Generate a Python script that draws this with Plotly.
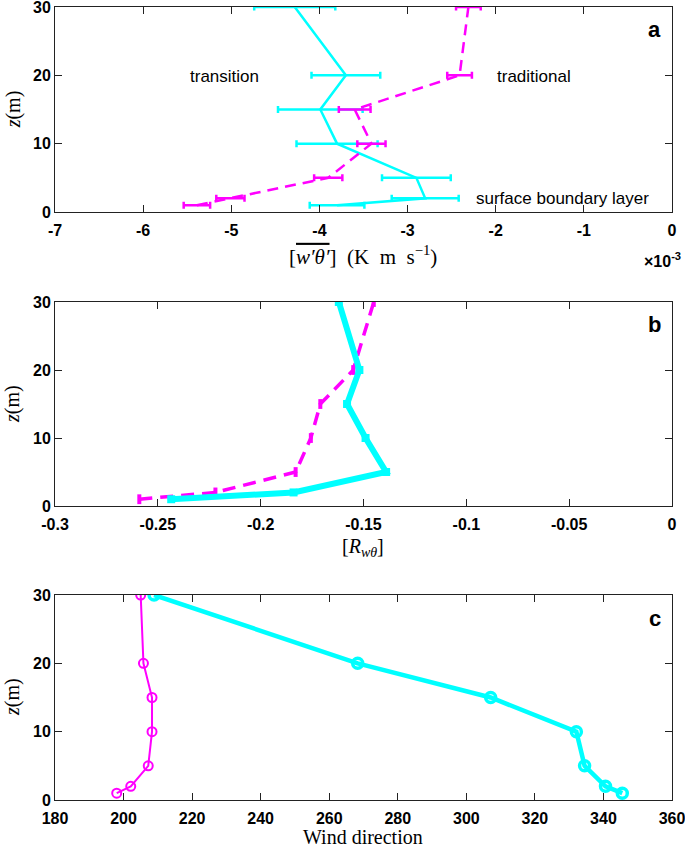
import plotly.graph_objects as go

# ---------------- data ----------------
z = [1, 2, 5, 10, 15, 20, 30]

# panel a: heat flux (x 1e-3 K m s^-1)
flux_transition = [-3.80, -2.80, -2.90, -3.80, -3.99, -3.70, -4.28]
flux_transition_err = [0.31, 0.38, 0.39, 0.46, 0.48, 0.39, 0.46]
flux_traditional = [-5.39, -5.01, -3.90, -3.41, -3.60, -2.41, -2.31]
flux_traditional_err = [0.15, 0.16, 0.16, 0.16, 0.18, 0.14, 0.14]

# panel b: correlation coefficient
r_transition = [-0.2435, -0.184, -0.139, -0.149, -0.158, -0.152, -0.162]
r_traditional = [-0.259, -0.222, -0.183, -0.1756, -0.171, -0.155, -0.145]

# panel c: wind direction (deg)
wd_transition = [345.5, 340.6, 334.5, 332.1, 307.1, 268.3, 208.9]
wd_traditional = [198.0, 202.1, 207.2, 208.3, 208.3, 205.8, 205.0]

x_ticks_a = [-7, -6, -5, -4, -3, -2, -1, 0]
x_ticks_b = [-0.3, -0.25, -0.2, -0.15, -0.1, -0.05, 0]
x_ticks_c = [180, 200, 220, 240, 260, 280, 300, 320, 340, 360]
y_ticks = [0, 10, 20, 30]

CYAN = "#00FFFF"
MAGENTA = "#FF00FF"
SANS = "Liberation Sans, Arial, sans-serif"
SERIF = "Liberation Serif, Times New Roman, serif"

fig = go.Figure()

# ---- panel a ----
fig.add_trace(go.Scatter(
    x=flux_transition, y=z, mode="lines", xaxis="x", yaxis="y",
    line=dict(color=CYAN, width=2.5),
    error_x=dict(type="data", array=flux_transition_err, color=CYAN,
                 thickness=2.5, width=3.5),
    showlegend=False))
fig.add_trace(go.Scatter(
    x=flux_traditional, y=z, mode="lines", xaxis="x", yaxis="y",
    line=dict(color=MAGENTA, width=2.5, dash="11px,7px"),
    error_x=dict(type="data", array=flux_traditional_err, color=MAGENTA,
                 thickness=2.5, width=3.5),
    showlegend=False))

# ---- panel b ----
fig.add_trace(go.Scatter(
    x=r_traditional, y=z, mode="lines+markers", xaxis="x2", yaxis="y2",
    line=dict(color=MAGENTA, width=3.5, dash="13px,8px"),
    marker=dict(symbol="line-ns", size=7, line=dict(color=MAGENTA, width=4)),
    showlegend=False))
fig.add_trace(go.Scatter(
    x=r_transition, y=z, mode="lines+markers", xaxis="x2", yaxis="y2",
    line=dict(color=CYAN, width=6),
    marker=dict(symbol="square", size=8, color=CYAN),
    showlegend=False))

# ---- panel c ----
fig.add_trace(go.Scatter(
    x=wd_traditional, y=z, mode="lines+markers", xaxis="x3", yaxis="y3",
    line=dict(color=MAGENTA, width=2),
    marker=dict(symbol="circle-open", size=9, line=dict(color=MAGENTA, width=2)),
    showlegend=False))
fig.add_trace(go.Scatter(
    x=wd_transition, y=z, mode="lines+markers", xaxis="x3", yaxis="y3",
    line=dict(color=CYAN, width=4.5),
    marker=dict(symbol="circle-open", size=10, line=dict(color=CYAN, width=3.5)),
    showlegend=False))

axis_common = dict(showline=True, linecolor="#222", linewidth=1, mirror="ticks",
                   ticks="inside", ticklen=7, tickcolor="#222", tickwidth=1,
                   showgrid=False, zeroline=False, ticklabeloverflow="allow",
                   automargin=False,
                   tickfont=dict(family=SANS, size=16, color="black", weight="bold"))
xaxis_extra = dict(ticklabelstandoff=4)

tick_fmt = lambda v: f"{v:g}"

fig.update_layout(
    width=685, height=849,
    margin=dict(l=55, r=13, t=7, b=49),
    paper_bgcolor="white", plot_bgcolor="white",
    xaxis=dict(domain=[0, 1], anchor="y", range=[-7, 0],
               tickvals=x_ticks_a, ticktext=[tick_fmt(v) for v in x_ticks_a],
               **axis_common, **xaxis_extra),
    yaxis=dict(domain=[0.7415, 1.0], anchor="x", range=[0, 30],
               tickvals=y_ticks, **axis_common),
    xaxis2=dict(domain=[0, 1], anchor="y2", range=[-0.3, 0],
                tickvals=x_ticks_b, ticktext=[tick_fmt(v) for v in x_ticks_b],
                **axis_common, **xaxis_extra),
    yaxis2=dict(domain=[0.3707, 0.628], anchor="x2", range=[0, 30],
                tickvals=y_ticks, **axis_common),
    xaxis3=dict(domain=[0, 1], anchor="y3", range=[180, 360],
                tickvals=x_ticks_c, **axis_common, **xaxis_extra),
    yaxis3=dict(domain=[0, 0.2585], anchor="x3", range=[0, 30],
                tickvals=y_ticks, **axis_common),
)

ann = []
# panel letters
for letter, yy in [("a", 0.971), ("b", 0.600), ("c", 0.2295)]:
    ann.append(dict(text=f"<b>{letter}</b>", x=0.972, y=yy, xref="paper", yref="paper",
                    showarrow=False, xanchor="center", yanchor="middle",
                    font=dict(family=SANS, size=22, color="black")))
# y titles
for yy in [0.871, 0.4994, 0.130]:
    ann.append(dict(text="<i>z</i>(m)", x=-0.068, y=yy, xref="paper", yref="paper",
                    showarrow=False, textangle=-90, xanchor="center", yanchor="middle",
                    font=dict(family=SERIF, size=20, color="black")))
# x titles
ann.append(dict(text="[<span style='text-decoration:overline'><i>w′θ′</i></span>]&nbsp; (K&nbsp; m&nbsp; s<sup>−1</sup>)",
                x=0.499, y=0.687, xref="paper", yref="paper", showarrow=False,
                xanchor="center", yanchor="middle",
                font=dict(family=SERIF, size=21, color="black")))
ann.append(dict(text="<b>×10<sup>-3</sup></b>", x=1.018, y=0.681, xref="paper", yref="paper",
                showarrow=False, xanchor="right", yanchor="middle",
                font=dict(family=SANS, size=16, color="black")))
ann.append(dict(text="[<i>R</i><sub><i>wθ</i></sub>]", x=0.499, y=0.318, xref="paper", yref="paper",
                showarrow=False, xanchor="center", yanchor="middle",
                font=dict(family=SERIF, size=20, color="black")))
ann.append(dict(text="Wind direction", x=0.499, y=-0.047, xref="paper", yref="paper",
                showarrow=False, xanchor="center", yanchor="middle",
                font=dict(family=SERIF, size=20, color="black")))
# in-plot labels for panel a
for txt, xx, yy in [("transition", -5.08, 19.9), ("traditional", -1.57, 19.9),
                    ("surface boundary layer", -1.24, 2.0)]:
    ann.append(dict(text=txt, x=xx, y=yy, xref="x", yref="y", showarrow=False,
                    xanchor="center", yanchor="middle",
                    font=dict(family=SANS, size=17, color="black")))

fig.update_layout(annotations=ann)

fig.write_html("out.html", config={"displayModeBar": False},
               post_script="document.body.style.margin='0';document.body.style.overflow='hidden';")
